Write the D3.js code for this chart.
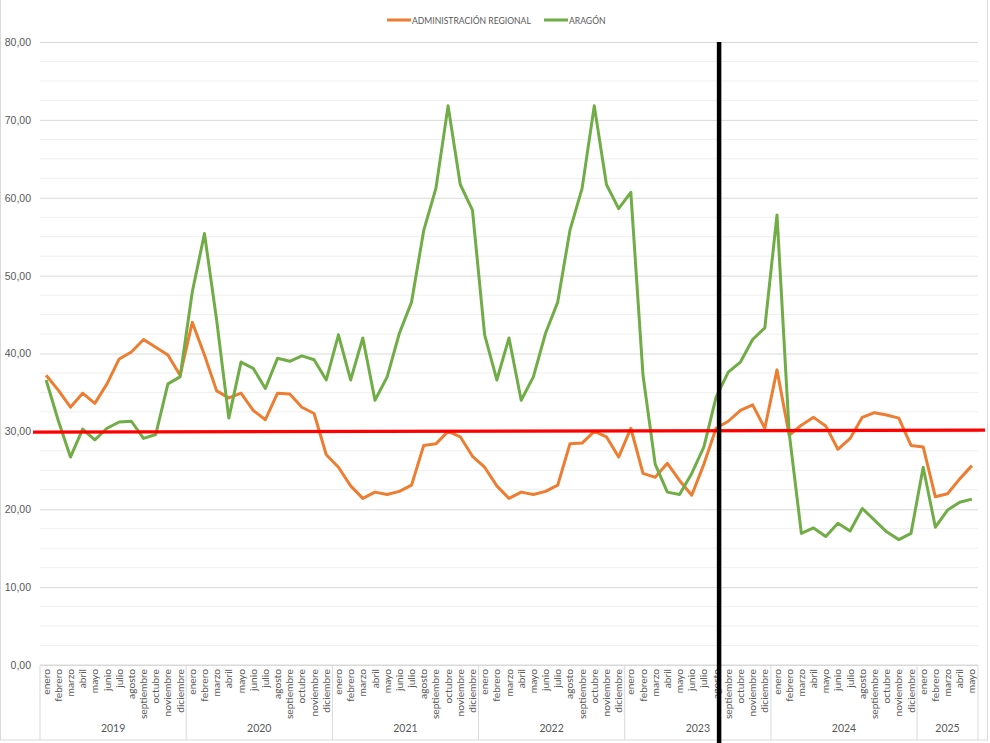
<!DOCTYPE html>
<html>
<head>
<meta charset="utf-8">
<script src="https://cdn.jsdelivr.net/npm/d3@7"></script>
<style>
  body { margin: 0; background: #fff; }
  svg { display: block; font-family: Lato, "Open Sans", sans-serif; }
  .tick text { fill: #595959; }
</style>
</head>
<body>
<svg id="chart" width="990" height="743"></svg>
<script>
const years = ["2019", "2020", "2021", "2022", "2023", "2024", "2025"];
const monthNames = ["enero", "febrero", "marzo", "abril", "mayo", "junio", "julio",
  "agosto", "septiembre", "octubre", "noviembre", "diciembre"];

// Administración Regional, enero 2019 .. mayo 2025
const regional = [
  37.2, 35.3, 33.1, 34.9, 33.6, 36.1, 39.3, 40.2, 41.8, 40.8, 39.8, 37.2,
  44.0, 39.8, 35.2, 34.3, 34.9, 32.7, 31.5, 34.9, 34.8, 33.1, 32.3, 27.0,
  25.4, 23.0, 21.4, 22.2, 21.9, 22.3, 23.1, 28.2, 28.4, 30.0, 29.3, 26.8,
  25.4, 23.0, 21.4, 22.2, 21.9, 22.3, 23.1, 28.4, 28.5, 30.0, 29.3, 26.7,
  30.4, 24.6, 24.1, 25.9, 23.7, 21.8, 25.8, 30.4, 31.3, 32.7, 33.4, 30.4,
  37.9, 29.5, 30.8, 31.8, 30.7, 27.7, 29.1, 31.8, 32.4, 32.1, 31.7, 28.2,
  28.0, 21.6, 22.0, 23.9, 25.6
];

// Aragón
const aragon = [
  36.6, 31.4, 26.7, 30.3, 28.9, 30.4, 31.2, 31.3, 29.1, 29.6, 36.1, 37.0,
  47.9, 55.4, 44.3, 31.7, 38.9, 38.1, 35.5, 39.4, 39.0, 39.7, 39.2, 36.6,
  42.4, 36.6, 42.0, 34.0, 37.0, 42.6, 46.6, 55.8, 61.2, 71.8, 61.7, 58.4,
  42.4, 36.6, 42.0, 34.0, 37.0, 42.6, 46.6, 55.8, 61.2, 71.8, 61.7, 58.6,
  60.7, 37.2, 25.8, 22.2, 21.9, 24.6, 28.0, 34.4, 37.6, 38.9, 41.8, 43.3,
  57.8, 29.8, 16.9, 17.6, 16.5, 18.2, 17.2, 20.1, 18.6, 17.1, 16.1, 16.9,
  25.4, 17.7, 19.9, 20.9, 21.3
];

// red reference line (left and right value) and black marker month
const referenceLine = [29.9, 30.15];
const markerMonth = "2023-agosto";

const yTicks = [0, 10, 20, 30, 40, 50, 60, 70, 80];

const categories = regional.map((d, i) => {
  const y = years[Math.floor(i / 12)];
  const m = monthNames[i % 12];
  return { key: `${y}-${m}`, year: y, month: m };
});

const series = [
  { name: "ADMINISTRACIÓN REGIONAL", values: regional, color: "#ED7D31" },
  { name: "ARAGÓN", values: aragon, color: "#70AD47" },
];

const svg = d3.select("#chart");
const width = 990, height = 743;
const margin = { top: 42, right: 12, bottom: 78, left: 40 };
const plotBottom = height - margin.bottom;

// chart frame
svg.append("rect")
  .attr("x", 0.5).attr("y", -1)
  .attr("width", width - 3).attr("height", height - 2)
  .attr("fill", "none").attr("stroke", "#d9d9d9");

const xScale = d3.scaleBand()
  .domain(categories.map((d) => d.key))
  .range([margin.left, width - margin.right]);

const xMid = (key) => xScale(key) + xScale.bandwidth() / 2;

const yScale = d3.scaleLinear()
  .domain([0, 80])
  .range([plotBottom, margin.top]);

// minor gridlines
svg.append("g")
  .selectAll("line")
  .data(d3.range(2.5, 80, 2.5).filter((v) => v % 10 !== 0))
  .enter()
  .append("line")
  .attr("x1", margin.left).attr("x2", width - margin.right)
  .attr("y1", (d) => yScale(d)).attr("y2", (d) => yScale(d))
  .attr("stroke", "#efefef").attr("stroke-width", 1);

// y axis with major gridlines
const yAxis = d3.axisLeft(yScale)
  .tickValues(yTicks)
  .tickSize(-(width - margin.left - margin.right))
  .tickPadding(9)
  .tickFormat((d) => d3.format(".2f")(d).replace(".", ","));

const yG = svg.append("g")
  .attr("transform", `translate(${margin.left},0)`)
  .call(yAxis);
yG.select(".domain").remove();
yG.selectAll(".tick line").attr("stroke", "#d9d9d9");
yG.selectAll(".tick text").attr("font-size", 10.5).attr("fill", "#595959");

// x axis baseline
svg.append("line")
  .attr("x1", margin.left).attr("x2", width - margin.right)
  .attr("y1", plotBottom).attr("y2", plotBottom)
  .attr("stroke", "#d9d9d9");

// month labels
svg.append("g")
  .selectAll("text")
  .data(categories)
  .enter()
  .append("text")
  .attr("transform", (d) => `translate(${xMid(d.key) + 3.5},${plotBottom + 4}) rotate(-90)`)
  .attr("text-anchor", "end")
  .attr("font-size", 10.2)
  .attr("fill", "#595959")
  .text((d) => d.month);

// year separators and labels
const yearGroups = d3.groups(categories, (d) => d.year);
const yearBounds = yearGroups.map(([y, items]) => ({
  year: y,
  x0: xScale(items[0].key),
  x1: xScale(items[items.length - 1].key) + xScale.bandwidth(),
}));

svg.append("g")
  .selectAll("line")
  .data([yearBounds[0].x0, ...yearBounds.map((d) => d.x1)])
  .enter()
  .append("line")
  .attr("x1", (d) => d).attr("x2", (d) => d)
  .attr("y1", plotBottom).attr("y2", height - 3)
  .attr("stroke", "#d9d9d9");

svg.append("g")
  .selectAll("text")
  .data(yearBounds)
  .enter()
  .append("text")
  .attr("x", (d) => (d.x0 + d.x1) / 2)
  .attr("y", height - 11)
  .attr("text-anchor", "middle")
  .attr("font-size", 10.5)
  .attr("fill", "#595959")
  .text((d) => d.year);

// series lines
const line = d3.line()
  .x((d, i) => xMid(categories[i].key))
  .y((d) => yScale(d));

svg.append("g")
  .selectAll("path")
  .data(series)
  .enter()
  .append("path")
  .attr("d", (d) => line(d.values))
  .attr("fill", "none")
  .attr("stroke", (d) => d.color)
  .attr("stroke-width", 3)
  .attr("stroke-linejoin", "round");

// red reference line
svg.append("line")
  .attr("x1", margin.left - 7).attr("x2", width - 5)
  .attr("y1", yScale(referenceLine[0])).attr("y2", yScale(referenceLine[1]))
  .attr("stroke", "#FF0000").attr("stroke-width", 3.2);

// black vertical marker
svg.append("line")
  .attr("x1", xMid(markerMonth) + 3).attr("x2", xMid(markerMonth) + 3)
  .attr("y1", margin.top).attr("y2", height)
  .attr("stroke", "#000").attr("stroke-width", 4.5);

// legend
const legend = svg.append("g").attr("transform", "translate(387,20)");
const legendItems = legend.selectAll("g")
  .data(series)
  .enter()
  .append("g")
  .attr("transform", (d, i) => `translate(${i * 157},0)`);

legendItems.append("line")
  .attr("x1", 0).attr("x2", 24)
  .attr("stroke", (d) => d.color)
  .attr("stroke-width", 3);

legendItems.append("text")
  .attr("x", 25).attr("y", 3.5)
  .attr("font-size", 8.6)
  .attr("fill", "#595959")
  .text((d) => d.name);
</script>
</body>
</html>
